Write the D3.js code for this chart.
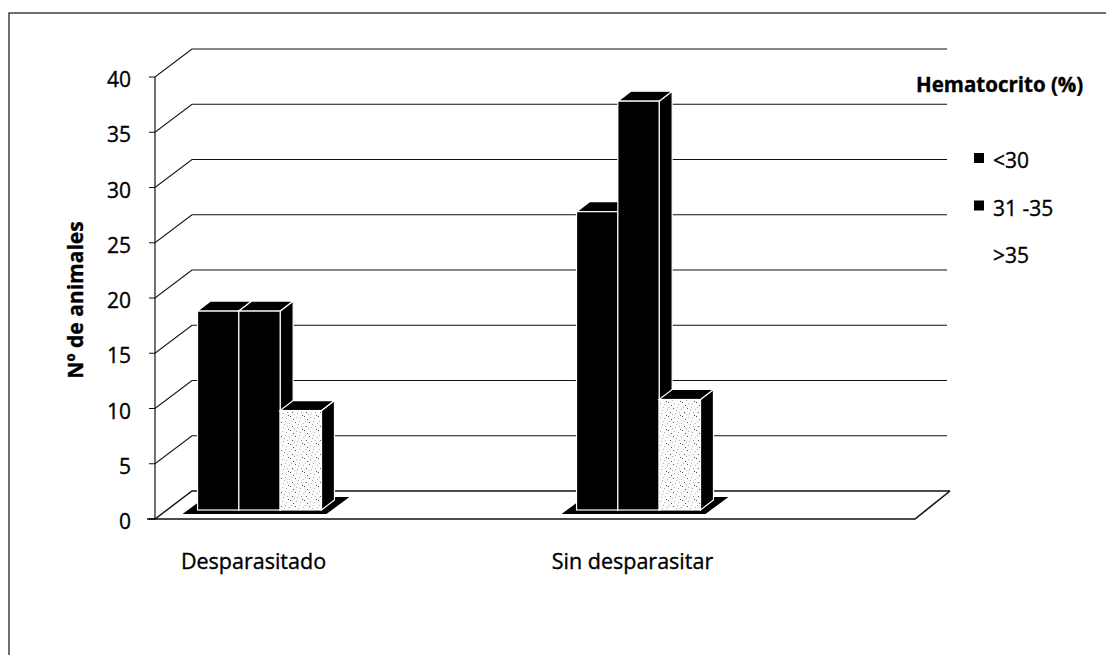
<!DOCTYPE html>
<html>
<head>
<meta charset="utf-8">
<script src="https://cdn.jsdelivr.net/npm/d3@7"></script>
<style>
body { margin: 0; background: #fff; }
text { font-family: "Open Sans", sans-serif; fill: #000; stroke: #000; stroke-width: 0.35px; }
</style>
</head>
<body>
<svg id="chart"></svg>
<script>
// data
var categories = ["Desparasitado", "Sin desparasitar"];
var series = ["<30", "31 -35", ">35"];
var valuesLow = [18, 27];
var valuesMid = [18, 37];
var valuesHigh = [9, 10];
var yTicks = [0, 5, 10, 15, 20, 25, 30, 35, 40];
var legendTitle = "Hematocrito (%)";
var yTitle = "Nº de animales";

var seriesValues = [valuesLow, valuesMid, valuesHigh];

var svgWidth = 1106, svgHeight = 655;
var depth = { x: 37, y: -28 };       // full floor depth
var barOff = { x: 12, y: -9 };       // where the bar front sits in the depth
var barDepth = { x: 13, y: -10 };
var axisX = 155, wallEnd = 947, floorFront = 915;

var svg = d3.select("#chart")
    .attr("width", svgWidth)
    .attr("height", svgHeight);

svg.append("rect")
    .attr("width", svgWidth).attr("height", svgHeight)
    .attr("fill", "#fff");

// speckle texture for the >35 series
var defs = svg.append("defs");
var pat = defs.append("pattern")
    .attr("id", "speckle")
    .attr("patternUnits", "userSpaceOnUse")
    .attr("width", 14).attr("height", 14);
pat.append("rect").attr("width", 14).attr("height", 14).attr("fill", "#fbfbfb");
var specks = [[1,2],[5,1],[9,3],[12,6],[3,7],[7,6],[10,10],[2,11],[6,12],[13,13],[4,4],[11,1],[8,9],[0,8]];
pat.selectAll("rect.s").data(specks).enter().append("rect")
    .attr("class", "s")
    .attr("x", function(d) { return d[0]; })
    .attr("y", function(d) { return d[1]; })
    .attr("width", 1).attr("height", 1)
    .attr("fill", function(d, i) { return i % 3 == 0 ? "#555" : "#b0b0b0"; });

// outer frame (only top and left fall inside the picture)
svg.append("rect")
    .attr("x", 9).attr("y", 13)
    .attr("width", 1200).attr("height", 1000)
    .attr("fill", "none")
    .attr("stroke", "#222")
    .attr("stroke-width", 1.3);

var y = d3.scaleLinear()
    .domain([0, 40])
    .range([519, 77]);

var x0 = d3.scaleBand()
    .domain(categories)
    .range([58, 816])
    .paddingInner(0.673)
    .paddingOuter(0.3365);

var x1 = d3.scaleBand()
    .domain(series)
    .range([0, x0.bandwidth()]);

// gridlines: front tick -> diagonal -> back wall
var grid = svg.append("g");
yTicks.forEach(function(t) {
    var yy = y(t);
    grid.append("path")
        .attr("d", "M" + (axisX - 6) + "," + yy + "H" + axisX +
            "L" + (axisX + depth.x) + "," + (yy + depth.y) +
            "H" + (t == 0 ? wallEnd + 3 : wallEnd))
        .attr("fill", "none")
        .attr("stroke", "#111")
        .attr("stroke-width", t == 0 ? 1.4 : 1.1);
});

// floor front edge and right side
grid.append("path")
    .attr("d", "M" + (axisX - 8) + "," + y(0) + "H" + floorFront +
        "L" + (floorFront + depth.x - 2) + "," + (y(0) + depth.y))
    .attr("fill", "none")
    .attr("stroke", "#111")
    .attr("stroke-width", 1.6);

// vertical axis
grid.append("line")
    .attr("x1", axisX).attr("x2", axisX)
    .attr("y1", y(40)).attr("y2", y(0))
    .attr("stroke", "#111")
    .attr("stroke-width", 1.2);

// tick labels
svg.append("g").selectAll("text")
    .data(yTicks).enter().append("text")
    .attr("x", 131)
    .attr("y", function(d) { return y(d) + 10; })
    .attr("text-anchor", "end")
    .attr("font-size", "21px")
    .text(function(d) { return d; });

// bars
var bars = svg.append("g");
categories.forEach(function(cat, i) {
    var gx = x0(cat);
    var gw = x0.bandwidth();
    var y0 = y(0);
    // dark footprint under the group
    bars.append("polygon")
        .attr("points", [
            [gx - 3, y0 - 5], [gx + gw + 17, y0 - 5],
            [gx + gw + 40, y0 - 22], [gx + 20, y0 - 22]
        ].join(" "))
        .attr("fill", "#000");

    series.forEach(function(s, j) {
        var v = seriesValues[j][i];
        var bx = gx + x1(s) + barOff.x;
        var w = x1.bandwidth();
        var top = y(v) + barOff.y;
        var bot = y(0) + barOff.y;
        var face = j == 2 ? "url(#speckle)" : "#000";

        bars.append("polygon")
            .attr("points", [
                [bx + w, top], [bx + w + barDepth.x, top + barDepth.y],
                [bx + w + barDepth.x, bot + barDepth.y], [bx + w, bot]
            ].join(" "))
            .attr("fill", "#000")
            .attr("stroke", "#fff")
            .attr("stroke-width", 1.2);

        bars.append("polygon")
            .attr("points", [
                [bx, top], [bx + barDepth.x, top + barDepth.y],
                [bx + w + barDepth.x, top + barDepth.y], [bx + w, top]
            ].join(" "))
            .attr("fill", "#000")
            .attr("stroke", "#fff")
            .attr("stroke-width", 1.2);

        bars.append("rect")
            .attr("x", bx).attr("y", top)
            .attr("width", w).attr("height", bot - top)
            .attr("fill", face)
            .attr("stroke", "#fff")
            .attr("stroke-width", 1.2);
    });
});

// category labels
svg.append("g").selectAll("text")
    .data(categories).enter().append("text")
    .attr("x", function(d) { return x0(d) + x0.bandwidth() / 2 + 6; })
    .attr("y", 569)
    .attr("text-anchor", "middle")
    .attr("font-size", "21.5px")
    .text(function(d) { return d; });

// axis title
svg.append("text")
    .attr("transform", "translate(83,300) rotate(-90)")
    .attr("text-anchor", "middle")
    .attr("font-size", "21px")
    .attr("font-weight", "bold")
    .text(yTitle);

// legend
var legend = svg.append("g");
legend.append("text")
    .attr("x", 916).attr("y", 92)
    .attr("font-size", "20.5px")
    .attr("font-weight", "bold")
    .text(legendTitle);

var item = legend.selectAll("g.item")
    .data(series).enter().append("g")
    .attr("class", "item")
    .attr("transform", function(d, i) { return "translate(974," + (153 + i * 47.5) + ")"; });

item.append("rect")
    .attr("width", 10).attr("height", 10)
    .attr("fill", function(d, i) { return i == 2 ? "#fff" : "#000"; });

item.append("text")
    .attr("x", 19).attr("y", 15)
    .attr("font-size", "21px")
    .text(function(d) { return d; });
</script>
</body>
</html>
